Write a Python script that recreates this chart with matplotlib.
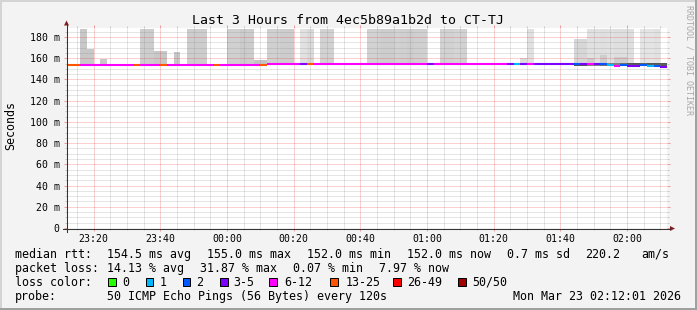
import matplotlib
matplotlib.use("Agg")
import matplotlib.pyplot as plt
from matplotlib.transforms import Affine2D
from matplotlib.patches import Rectangle, Polygon
from matplotlib.lines import Line2D

# ---------------- data ----------------
title = "Last 3 Hours from 4ec5b89a1b2d to CT-TJ"
start_hms = "23:12:01"
step_min = 2
x_tick_labels = ["23:20", "23:40", "00:00", "00:20", "00:40", "01:00", "01:20", "01:40", "02:00"]
y_tick_values = [0, 20, 40, 60, 80, 100, 120, 140, 160, 180]
y_tick_labels = ["0", "20 m", "40 m", "60 m", "80 m", "100 m", "120 m", "140 m", "160 m", "180 m"]

# median rtt per 2-minute step (ms)
median_ms = [
    154.0, 154.0, 154.0, 154.0, 154.0, 154.0, 154.0, 154.0, 154.0, 154.0,
    154.0, 154.0, 154.0, 154.0, 154.0, 154.0, 154.0, 154.0, 154.0, 154.0,
    154.0, 154.0, 154.0, 154.0, 154.0, 154.0, 154.0, 154.0, 154.0, 154.0,
    155.0, 155.0, 155.0, 155.0, 155.0, 155.0, 155.0, 155.0, 155.0, 155.0,
    155.0, 155.0, 155.0, 155.0, 155.0, 155.0, 155.0, 155.0, 155.0, 155.0,
    155.0, 155.0, 155.0, 155.0, 155.0, 155.0, 155.0, 155.0, 155.0, 155.0,
    155.0, 155.0, 155.0, 155.0, 155.0, 155.0, 155.0, 155.0, 155.0, 155.0,
    155.0, 155.0, 155.0, 155.0, 155.0, 155.0, 155.0, 155.0, 155.0, 154.8,
    154.5, 154.0, 153.0, 153.5, 153.0, 153.0, 153.2, 153.0, 152.3, 152.0,
]

# packet loss per step (% of 50 pings)
loss_pct = [
    28.0, 26.5, 16.2, 15.0, 14.1, 13.5, 15.8, 17.0, 14.6, 13.2,
    27.2, 16.5, 18.2, 15.1, 31.87, 14.0, 15.5, 13.8, 16.9, 17.5,
    15.2, 14.4, 29.0, 13.6, 18.8, 19.5, 17.2, 16.0, 15.3, 26.8,
    18.4, 17.6, 16.3, 15.0, 13.9, 9.0, 28.5, 14.2, 16.8, 17.3,
    13.7, 12.9, 13.3, 14.8, 15.6, 18.1, 17.9, 16.6, 15.4, 14.9,
    16.2, 17.0, 15.8, 14.5, 8.5, 13.1, 16.4, 17.2, 15.9, 16.7,
    14.0, 13.4, 12.6, 13.8, 12.8, 12.4, 7.0, 0.07, 6.5, 12.5,
    9.2, 8.1, 7.4, 8.8, 9.5, 7.9, 3.5, 6.0, 13.0, 7.0,
    3.0, 1.5, 12.8, 3.8, 7.5, 8.0, 3.2, 1.8, 2.8, 7.97,
]

# upper smoke top per step (ms), None = no visible smoke above the median
N = None
smoke_hi = [
    N, N, 187.6, 168.7, N, 159.3, N, N, N, N,
    N, 187.6, 187.6, 166.8, 166.8, N, 165.9, N, 187.6, 187.6,
    187.6, N, N, N, 187.6, 187.6, 187.6, 187.6, 158.3, 158.3,
    187.6, 187.6, 187.6, 187.6, N, 187.6, 187.6, N, 187.6, 187.6,
    N, N, N, N, N, 187.6, 187.6, 187.6, 187.6, 187.6,
    187.6, 187.6, 187.6, 187.6, N, N, 187.6, 187.6, 187.6, 187.6,
    N, N, N, N, N, N, N, N, 160.3, 187.6,
    N, N, N, N, N, N, 178.1, 178.1, 187.6, 187.6,
    187.6, 187.6, 187.6, 187.6, 187.6, N, 187.6, 187.6, 187.6, N,
]
# share of pings (%) in that upper smoke band
smoke_share = [
    0, 0, 20, 20, 0, 20, 0, 0, 0, 0,
    0, 18, 18, 20, 20, 0, 20, 0, 18, 18,
    18, 0, 0, 0, 17, 17, 19, 18, 22, 22,
    17, 17, 18, 18, 0, 10, 13, 0, 16, 16,
    0, 0, 0, 0, 0, 16, 16, 18, 18, 16,
    17, 18, 17, 17, 0, 0, 16, 16, 15, 16,
    0, 0, 0, 0, 0, 0, 0, 0, 12, 10,
    0, 0, 0, 0, 0, 0, 14, 14, 10, 10,
    11, 10, 11, 11, 11, 0, 9, 9, 10, 0,
]
# denser inner smoke layer (top, ms) for a few steps
mid_steps = [78, 80, 82, 83]
mid_hi = [160.0, 163.0, 161.0, 161.0]
mid_share = [18, 18, 18, 18]

# dense core around the median at the end of the period
core_steps = [75, 76, 77, 78, 79, 80, 81, 82, 83, 84, 85, 86, 87, 88, 89]
core_lo = [153.8, 152.8, 152.8, 153.0, 153.0, 153.0, 152.8, 152.5, 152.5, 152.5, 152.3, 152.3, 152.0, 151.8, 151.6]
core_hi = [155.3, 155.6, 155.6, 155.6, 155.6, 155.6, 155.6, 155.4, 155.4, 155.4, 155.4, 155.2, 155.2, 155.2, 155.2]
core_share = [8, 50, 50, 33, 33, 40, 33, 33, 40, 50, 50, 45, 50, 50, 50]

loss_names = ["0", "1", "2", "3-5", "6-12", "13-25", "26-49", "50/50"]
loss_max_pings = [0, 1, 2, 5, 12, 25, 49, 50]
loss_colors = ["#26ff00", "#00b8ff", "#0059ff", "#7e00ff", "#ff00ff", "#ff5500", "#ff0000", "#a10000"]

legend_line1 = [("median rtt:", 16), ("154.5 ms avg", 107.3), ("155.0 ms max", 207.3),
                ("152.0 ms min", 307.3), ("152.0 ms now", 407.3), ("0.7 ms sd", 507.3),
                ("220.2", 586.3), ("am/s", 642)]
legend_line2 = [("packet loss:", 16), ("14.13 % avg", 107.3), ("31.87 % max", 200.3),
                ("0.07 % min", 293.3), ("7.97 % now", 379.5)]
probe_text = "50 ICMP Echo Pings (56 Bytes) every 120s"
date_text = "Mon Mar 23 02:12:01 2026"

# ---------------- style ----------------
FONT = "DejaVu Sans Mono"
plt.rcParams['font.family'] = [FONT, 'DejaVu Sans']
W, H = 697, 310
BG = "#f3f3f3"
MINOR_C = (0.50, 0.50, 0.50, 0.40)
MAJOR_C = (0.90, 0.10, 0.10, 0.40)
AXIS_C = "#333333"
ARROW_C = "#7f1f1f"

fig = plt.figure(figsize=(W / 100, H / 100), dpi=100)
fig.patch.set_facecolor(BG)
PX = Affine2D().scale(1.0 / W, -1.0 / H).translate(0, 1) + fig.transFigure

X0, X1, YT, YB = 67, 667, 28, 228
ax = fig.add_axes([X0 / W, 1 - YB / H, (X1 - X0) / W, (YB - YT) / H])
ax.set_facecolor("white")
for s in ax.spines.values():
    s.set_visible(False)

h0, m0, s0 = map(int, start_hms.split(":"))
t_start = s0 / 60.0   # minutes after 23:12:00
YMAX = 188.5
ax.set_xlim(t_start, t_start + 180)
ax.set_ylim(0, YMAX)


def minutes_since(hhmm):
    h, m = map(int, hhmm.split(":"))
    return ((h * 60 + m) - (h0 * 60 + m0)) % 1440


def grey(v):
    v = max(0, min(255, v)) / 255.0
    return (v, v, v)


def loss_color(p):
    pings = p * 50 / 100.0
    for mx, c in zip(loss_max_pings, loss_colors):
        if pings <= mx + 1e-9:
            return c
    return loss_colors[-1]


n = len(median_ms)
lefts = [i * step_min for i in range(n)]

# outer smoke
bx, bh, bb, bc = [], [], [], []
for i in range(n):
    if smoke_hi[i] is not None:
        bx.append(lefts[i]); bb.append(median_ms[i]); bh.append(smoke_hi[i] - median_ms[i])
        bc.append(grey(250 - 2.5 * smoke_share[i]))
ax.bar(bx, bh, bottom=bb, width=step_min, align="edge", color=bc, linewidth=0, zorder=1)

# inner smoke layer
ax.bar([lefts[i] for i in mid_steps], [mid_hi[k] - median_ms[i] for k, i in enumerate(mid_steps)],
       bottom=[median_ms[i] for i in mid_steps], width=step_min, align="edge",
       color=[grey(250 - 2.5 * s) for s in mid_share], linewidth=0, zorder=2)

# dense core
ax.bar([lefts[i] for i in core_steps], [hi - lo for lo, hi in zip(core_lo, core_hi)],
       bottom=core_lo, width=step_min, align="edge",
       color=[grey(215 - 2.6 * s) for s in core_share], linewidth=0, zorder=2)

# grid (drawn over smoke, under the line)
major_x = [minutes_since(l) for l in x_tick_labels]
minor_x = [m for m in range(3, 181, 5) if m not in major_x]
dot = (0, (1, 1))
ax.vlines(minor_x, 0, YMAX, colors=[MINOR_C], linestyles=[dot], linewidth=0.72, zorder=3)
ax.vlines(major_x, 0, YMAX, colors=[MAJOR_C], linestyles=[dot], linewidth=0.72, zorder=3)
minor_y = [v for v in range(5, 190, 5) if v % 20 != 0]
ax.hlines(minor_y, t_start, t_start + 180, colors=[MINOR_C], linestyles=[dot], linewidth=0.72, zorder=3)
ax.hlines([v for v in y_tick_values if v > 0], t_start, t_start + 180, colors=[MAJOR_C],
          linestyles=[dot], linewidth=0.72, zorder=3)

# median line coloured by loss
for i in range(n):
    ax.hlines(median_ms[i], lefts[i], lefts[i] + step_min, colors=loss_color(loss_pct[i]),
              linewidth=1.5, zorder=6)

# ticks
ax.set_xticks(major_x)
ax.set_xticklabels(x_tick_labels)
ax.set_xticks(minor_x, minor=True)
ax.set_yticks(y_tick_values)
ax.set_yticklabels(y_tick_labels)
ax.set_yticks(minor_y, minor=True)
ax.tick_params(which="major", direction="out", length=2.2, width=0.72, color=MAJOR_C,
               labelsize=7.1, top=True, right=True, labeltop=False, labelright=False)
ax.tick_params(which="minor", direction="out", length=1.5, width=0.72, color=MINOR_C,
               top=True, right=True)
ax.tick_params(axis="x", which="major", pad=2.0)
ax.tick_params(axis="y", which="major", pad=3.0)

# axes lines with arrows
fig.add_artist(Line2D([66.5, 66.5], [232, 25], color=AXIS_C, lw=0.75, transform=PX))
fig.add_artist(Line2D([63, 670], [228.5, 228.5], color=AXIS_C, lw=0.75, transform=PX))
fig.add_artist(Polygon([[64, 25.5], [69, 25.5], [66.5, 20.5]], closed=True, color=ARROW_C, lw=0, transform=PX))
fig.add_artist(Polygon([[670, 226], [670, 231], [675, 228.5]], closed=True, color=ARROW_C, lw=0, transform=PX))

# texts
fig.text(348.5, 24.5, title, transform=PX, ha="center", va="baseline", fontsize=9.5)
fig.text(11, 126, "Seconds", transform=PX, ha="center", va="center", rotation=90, fontsize=8.4)
fig.text(688.5, 5, "RRDTOOL / TOBI OETIKER", transform=PX, ha="center", va="top", rotation=270,
         fontsize=6.0, color="#a8a8a8")

LFS = 8.4
for s, x in legend_line1:
    fig.text(x - 0.7, 257.8, s, transform=PX, ha="left", va="baseline", fontsize=LFS)
for s, x in legend_line2:
    fig.text(x - 0.7, 271.8, s, transform=PX, ha="left", va="baseline", fontsize=LFS)
fig.text(16 - 0.7, 285.6, "loss color:", transform=PX, ha="left", va="baseline", fontsize=LFS)
box_x = [108.3, 145.7, 182.7, 220.0, 269.3, 330.0, 393.0, 458.0]
lab_x = [123.3, 160.0, 197.3, 234.3, 285.0, 346.0, 408.0, 473.0]
for bxp, lx, name, col in zip(box_x, lab_x, loss_names, loss_colors):
    fig.add_artist(Rectangle((bxp, 277.5), 7.5, 8.5, facecolor=col, edgecolor="black",
                             lw=0.72, transform=PX))
    fig.text(lx - 0.7, 285.6, name, transform=PX, ha="left", va="baseline", fontsize=LFS)
fig.text(16 - 0.7, 299.6, "probe:", transform=PX, ha="left", va="baseline", fontsize=LFS)
fig.text(107.3 - 0.7, 299.6, probe_text, transform=PX, ha="left", va="baseline", fontsize=LFS)
fig.text(681, 299.6, date_text, transform=PX, ha="right", va="baseline", fontsize=LFS)

# 3D border
fig.add_artist(Line2D([0, W], [1, 1], color="#d4d4d4", lw=1.44, transform=PX))
fig.add_artist(Line2D([1, 1], [0, H], color="#d4d4d4", lw=1.44, transform=PX))
fig.add_artist(Line2D([0, W], [H - 1, H - 1], color="#a0a0a0", lw=1.44, transform=PX))
fig.add_artist(Line2D([W - 1, W - 1], [0, H], color="#a0a0a0", lw=1.44, transform=PX))

fig.savefig("out.png", dpi=100, facecolor=BG)
